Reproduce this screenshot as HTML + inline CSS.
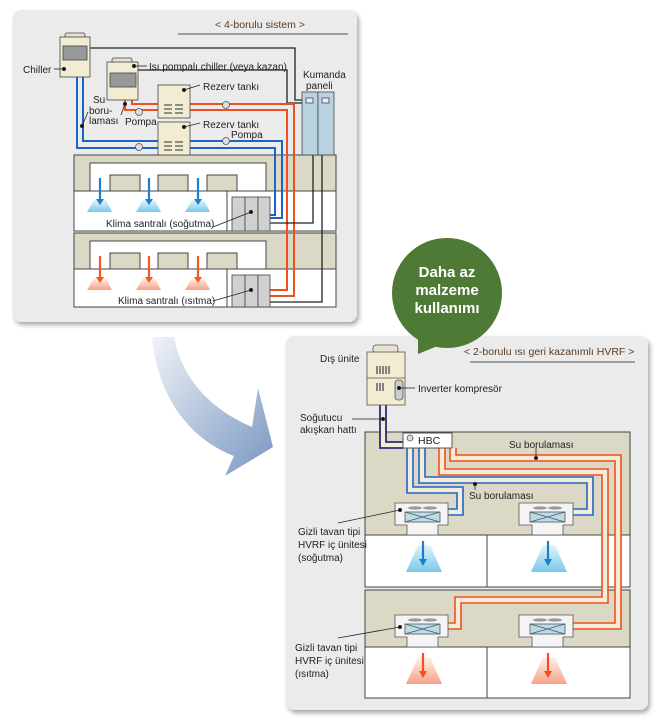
<!DOCTYPE html>
<html><head><meta charset="utf-8"><style>
html,body{margin:0;padding:0;background:#fff}
svg{display:block}
text{font-family:"Liberation Sans",sans-serif;font-size:10px;fill:#222}
</style></head><body>
<svg width="660" height="726" viewBox="0 0 660 726" xmlns="http://www.w3.org/2000/svg">
<defs>
<linearGradient id="ag" x1="0" y1="0" x2="1" y2="1">
<stop offset="0" stop-color="#f0f3f8"/><stop offset="1" stop-color="#7896c0"/></linearGradient>
<linearGradient id="bf" x1="0" y1="0" x2="0" y2="1">
<stop offset="0" stop-color="#e4f4fb"/><stop offset="1" stop-color="#79c8ea"/></linearGradient>
<linearGradient id="rf" x1="0" y1="0" x2="0" y2="1">
<stop offset="0" stop-color="#fff1ea"/><stop offset="1" stop-color="#f7a288"/></linearGradient>
<filter id="sh" x="-5%" y="-5%" width="115%" height="115%"><feDropShadow dx="2" dy="3" stdDeviation="2.5" flood-color="#000" flood-opacity="0.35"/></filter>
</defs>

<rect x="13" y="10" width="344" height="312" rx="8" fill="#ebebeb" filter="url(#sh)"/>
<text x="215" y="28" style="fill:#5a3b22;font-size:10.5px">&lt; 4-borulu sistem &gt;</text>
<line x1="178" y1="34" x2="348" y2="34" stroke="#555" stroke-width="1"/>

<g stroke="#444" stroke-width="1">
<rect x="74" y="155" width="262" height="76" fill="#fff"/>
<rect x="74" y="155" width="262" height="36" fill="#dcd8c6"/>
<rect x="90" y="163" width="176" height="28" fill="#fff"/>
<rect x="110" y="175" width="30" height="16" fill="#dcd8c6"/>
<rect x="158" y="175" width="30" height="16" fill="#dcd8c6"/>
<rect x="207" y="175" width="30" height="16" fill="#dcd8c6"/>
<line x1="227" y1="191" x2="227" y2="231"/>
<rect x="74" y="233" width="262" height="74" fill="#fff"/>
<rect x="74" y="233" width="262" height="36" fill="#dcd8c6"/>
<rect x="90" y="241" width="176" height="28" fill="#fff"/>
<rect x="110" y="253" width="30" height="16" fill="#dcd8c6"/>
<rect x="158" y="253" width="30" height="16" fill="#dcd8c6"/>
<rect x="207" y="253" width="30" height="16" fill="#dcd8c6"/>
<line x1="227" y1="269" x2="227" y2="307"/>
</g>
<g>
<path d="M94 200 L106 200 L112 212 L87 212Z" fill="url(#bf)"/>
<path d="M143 200 L155 200 L161 212 L136 212Z" fill="url(#bf)"/>
<path d="M192 200 L204 200 L210 212 L185 212Z" fill="url(#bf)"/>
<path d="M94 278 L106 278 L112 290 L87 290Z" fill="url(#rf)"/>
<path d="M143 278 L155 278 L161 290 L136 290Z" fill="url(#rf)"/>
<path d="M192 278 L204 278 L210 290 L185 290Z" fill="url(#rf)"/>
<g stroke="#1b7fd0" stroke-width="2.2" fill="#1b7fd0">
<line x1="100" y1="178" x2="100" y2="200"/><path d="M96 199 L104 199 L100 205Z" stroke="none"/>
<line x1="149" y1="178" x2="149" y2="200"/><path d="M145 199 L153 199 L149 205Z" stroke="none"/>
<line x1="198" y1="178" x2="198" y2="200"/><path d="M194 199 L202 199 L198 205Z" stroke="none"/>
</g>
<g stroke="#f05a22" stroke-width="2.2" fill="#f05a22">
<line x1="100" y1="256" x2="100" y2="278"/><path d="M96 277 L104 277 L100 283Z" stroke="none"/>
<line x1="149" y1="256" x2="149" y2="278"/><path d="M145 277 L153 277 L149 283Z" stroke="none"/>
<line x1="198" y1="256" x2="198" y2="278"/><path d="M194 277 L202 277 L198 283Z" stroke="none"/>
</g>
</g>

<g fill="none" stroke-width="2">
<polyline points="90,48 295,48 295,100 303,100" stroke="#222" stroke-width="1.3"/>
<polyline points="138,70 287,70 287,103 303,103" stroke="#222" stroke-width="1.3"/>
<polyline points="77,77 77,148 275,148 275,215 270,215" stroke="#1e64c8"/>
<polyline points="83,77 83,141 282,141 282,218 270,218" stroke="#1e64c8"/>
<polyline points="125,100 125,110 287,110 287,290 270,290" stroke="#f0501e"/>
<polyline points="132,100 132,104 294,104 294,296 270,296" stroke="#f0501e"/>
<polyline points="313,155 313,223 270,223" stroke="#222" stroke-width="1.3"/>
<polyline points="322,155 322,302 270,302" stroke="#222" stroke-width="1.3"/>
</g>
<g fill="#ddd" stroke="#555" stroke-width="0.8">
<circle cx="139" cy="112" r="3.5"/><circle cx="226" cy="105" r="3.5"/>
<circle cx="139" cy="147" r="3.5"/><circle cx="226" cy="141" r="3.5"/>
</g>

<g stroke="#444" stroke-width="0.8">
<rect x="65" y="33" width="20" height="5" rx="2" fill="#e8e3d0"/>
<rect x="60" y="37" width="30" height="40" fill="#f2ecd2"/>
<rect x="63" y="46" width="24" height="14" fill="#999"/>
<rect x="112" y="58" width="20" height="5" rx="2" fill="#e8e3d0"/>
<rect x="107" y="62" width="31" height="38" fill="#f2ecd2"/>
<rect x="110" y="73" width="26" height="14" fill="#999"/>
<rect x="158" y="85" width="32" height="33" fill="#f2ecd2"/>
<rect x="158" y="122" width="32" height="33" fill="#f2ecd2"/>
<rect x="302" y="92" width="16" height="63" fill="#b9d2e0"/>
<rect x="318" y="92" width="16" height="63" fill="#b9d2e0"/>
<rect x="306" y="98" width="7" height="5" fill="#eef"/>
<rect x="322" y="98" width="7" height="5" fill="#eef"/>
<rect x="232" y="197" width="13" height="34" fill="#d0d0d0"/><rect x="245" y="197" width="13" height="34" fill="#d0d0d0"/><rect x="258" y="197" width="12" height="34" fill="#d0d0d0"/>
<rect x="232" y="275" width="13" height="32" fill="#d0d0d0"/><rect x="245" y="275" width="13" height="32" fill="#d0d0d0"/><rect x="258" y="275" width="12" height="32" fill="#d0d0d0"/>
</g>
<g stroke="#555" stroke-width="1.2">
<path d="M164 105h8M175 105h8M164 109h8M175 109h8M164 113h8M175 113h8"/>
<path d="M164 142h8M175 142h8M164 146h8M175 146h8M164 150h8M175 150h8"/>
</g>
<g stroke="#222" stroke-width="0.8" fill="#111">
<line x1="54" y1="69" x2="64" y2="69"/><circle cx="64" cy="69" r="1.6"/>
<line x1="134" y1="66" x2="147" y2="66"/><circle cx="134" cy="66" r="1.6"/>
<line x1="184" y1="90" x2="200" y2="85"/><circle cx="184" cy="90" r="1.6"/>
<line x1="184" y1="127" x2="200" y2="123"/><circle cx="184" cy="127" r="1.6"/>
<line x1="82" y1="126" x2="88" y2="112"/><circle cx="82" cy="126" r="1.6"/>
<line x1="121" y1="115" x2="125" y2="104"/><circle cx="125" cy="104" r="1.6"/>
<line x1="213" y1="227" x2="251" y2="212"/><circle cx="251" cy="212" r="1.6"/>
<line x1="213" y1="301" x2="251" y2="290"/><circle cx="251" cy="290" r="1.6"/>
</g>
<text x="23" y="73">Chiller</text>
<text x="149" y="70">Isı pompalı chiller (veya kazan)</text>
<text x="203" y="90">Rezerv tankı</text>
<text x="203" y="128">Rezerv tankı</text>
<text x="231" y="138">Pompa</text>
<text x="125" y="125">Pompa</text>
<text x="93" y="103">Su</text><text x="89" y="114">boru-</text><text x="89" y="124">laması</text>
<text x="303" y="78">Kumanda</text><text x="306" y="89">paneli</text>
<text x="106" y="227">Klima santralı (soğutma)</text>
<text x="118" y="304">Klima santralı (ısıtma)</text>

<path d="M152 337 C158 400 192 440 234 456 L225 476 L273 447 L258 388 L252 427 C212 410 182 380 174 337 Z" fill="url(#ag)"/>

<rect x="286" y="336" width="362" height="374" rx="8" fill="#ebebeb" filter="url(#sh)"/>
<circle cx="447" cy="293" r="55" fill="#4f7a35"/>
<path d="M418 338 L418 354 L440 345Z" fill="#4f7a35"/>
<text x="447" y="277" text-anchor="middle" style="fill:#fff;font-weight:bold;font-size:15px">Daha az</text>
<text x="447" y="295" text-anchor="middle" style="fill:#fff;font-weight:bold;font-size:15px">malzeme</text>
<text x="447" y="313" text-anchor="middle" style="fill:#fff;font-weight:bold;font-size:15px">kullanımı</text>
<text x="464" y="355" style="fill:#5a3b22;font-size:10.5px">&lt; 2-borulu ısı geri kazanımlı HVRF &gt;</text>
<line x1="470" y1="362" x2="635" y2="362" stroke="#555"/>

<g stroke="#444" stroke-width="1">
<rect x="365" y="432" width="265" height="155" fill="#fff"/>
<rect x="365" y="432" width="265" height="103" fill="#dcd8c6"/>
<line x1="487" y1="535" x2="487" y2="587"/>
<rect x="365" y="590" width="265" height="108" fill="#fff"/>
<rect x="365" y="590" width="265" height="57" fill="#dcd8c6"/>
<line x1="487" y1="647" x2="487" y2="698"/>
</g>
<path d="M418 545 L430 545 L442 572 L406 572Z" fill="url(#bf)"/>
<path d="M543 545 L555 545 L567 572 L531 572Z" fill="url(#bf)"/>
<path d="M418 657 L430 657 L442 684 L406 684Z" fill="url(#rf)"/>
<path d="M543 657 L555 657 L567 684 L531 684Z" fill="url(#rf)"/>
<g stroke-width="2.2">
<line x1="423" y1="541" x2="423" y2="560" stroke="#1b7fd0"/><path d="M419 559 L427 559 L423 566Z" fill="#1b7fd0"/>
<line x1="548" y1="541" x2="548" y2="560" stroke="#1b7fd0"/><path d="M544 559 L552 559 L548 566Z" fill="#1b7fd0"/>
<line x1="423" y1="653" x2="423" y2="672" stroke="#f0501e"/><path d="M419 671 L427 671 L423 678Z" fill="#f0501e"/>
<line x1="548" y1="653" x2="548" y2="672" stroke="#f0501e"/><path d="M544 671 L552 671 L548 678Z" fill="#f0501e"/>
</g>

<polyline points="383,405 383,445 403,445" fill="none" stroke="#f2ecd8" stroke-width="7"/>
<polyline points="380,405 380,448 403,448" fill="none" stroke="#2e2a78" stroke-width="1.8"/>
<polyline points="386,405 386,442 403,442" fill="none" stroke="#2e2a78" stroke-width="1.8"/>

<g fill="none">
<g stroke="#f2ecd8" stroke-width="7">
<polyline points="410,448 410,490 460,490 460,512 448,512"/>
<polyline points="422,448 422,480 590,480 590,512 573,512"/>
<polyline points="442,448 442,472 605,472 605,600 458,600 458,626 448,626"/>
<polyline points="453,448 453,458 618,458 618,626 573,626"/>
</g>
<g stroke="#1e64c8" stroke-width="1.6">
<polyline points="407,448 407,493 457,493 457,509 448,509"/>
<polyline points="413,448 413,487 463,487 463,515 448,515"/>
<polyline points="419,448 419,483 587,483 587,509 573,509"/>
<polyline points="425,448 425,477 593,477 593,515 573,515"/>
</g>
<g stroke="#f0501e" stroke-width="1.6">
<polyline points="439,448 439,475 602,475 602,597 455,597 455,623 448,623"/>
<polyline points="445,448 445,469 608,469 608,603 461,603 461,629 448,629"/>
<polyline points="450,448 450,461 615,461 615,623 573,623"/>
<polyline points="456,448 456,455 621,455 621,629 573,629"/>
</g>
</g>

<rect x="403" y="433" width="49" height="15" fill="#fff" stroke="#555"/>
<circle cx="410" cy="438" r="3" fill="#ddd" stroke="#555" stroke-width="0.8"/>
<text x="418" y="444" style="font-size:10.5px">HBC</text>

<g stroke="#555" stroke-width="0.8">
<path d="M395 503 H448 V525 H438 V535 H407 V525 H395Z" fill="#f4f4f4"/>
<path d="M519 503 H573 V525 H563 V535 H532 V525 H519Z" fill="#f4f4f4"/>
<path d="M395 615 H448 V637 H438 V647 H407 V637 H395Z" fill="#f4f4f4"/>
<path d="M519 615 H573 V637 H563 V647 H532 V637 H519Z" fill="#f4f4f4"/>
<g fill="#b8dcea">
<rect x="405" y="512" width="35" height="10"/><rect x="530" y="512" width="35" height="10"/>
<rect x="405" y="624" width="35" height="10"/><rect x="530" y="624" width="35" height="10"/>
</g>
<path d="M405 512 L440 522 M440 512 L405 522 M530 512 L565 522 M565 512 L530 522 M405 624 L440 634 M440 624 L405 634 M530 624 L565 634 M565 624 L530 634" fill="none"/>
</g>
<g fill="#999">
<ellipse cx="415" cy="508" rx="7" ry="1.6"/><ellipse cx="430" cy="508" rx="7" ry="1.6"/>
<ellipse cx="540" cy="508" rx="7" ry="1.6"/><ellipse cx="555" cy="508" rx="7" ry="1.6"/>
<ellipse cx="415" cy="620" rx="7" ry="1.6"/><ellipse cx="430" cy="620" rx="7" ry="1.6"/>
<ellipse cx="540" cy="620" rx="7" ry="1.6"/><ellipse cx="555" cy="620" rx="7" ry="1.6"/>
</g>

<g stroke="#555" stroke-width="0.8">
<rect x="373" y="345" width="25" height="8" rx="3" fill="#e8e3d0"/>
<rect x="367" y="352" width="38" height="53" fill="#f2ecd2"/>
<line x1="367" y1="378" x2="405" y2="378"/>
<rect x="395" y="380" width="8" height="20" rx="3" fill="#ccc"/>
</g>
<g stroke="#555" stroke-width="1.4">
<path d="M377 366v8M380 366v8M383 366v8M386 366v8M389 366v8M377 383v8M380 383v8M383 383v8"/>
</g>

<g stroke="#222" stroke-width="0.8" fill="#111">
<line x1="399" y1="388" x2="415" y2="388"/><circle cx="399" cy="388" r="1.6"/>
<line x1="352" y1="419" x2="383" y2="419"/><circle cx="383" cy="419" r="1.6"/>
<line x1="536" y1="457" x2="536" y2="448"/><circle cx="536" cy="458" r="1.6"/>
<line x1="475" y1="484" x2="475" y2="490"/><circle cx="475" cy="484" r="1.6"/>
<line x1="338" y1="523" x2="400" y2="510"/><circle cx="400" cy="510" r="1.6"/>
<line x1="338" y1="638" x2="400" y2="627"/><circle cx="400" cy="627" r="1.6"/>
</g>
<text x="320" y="362">Dış ünite</text>
<text x="418" y="392">Inverter kompresör</text>
<text x="300" y="421">Soğutucu</text>
<text x="300" y="433">akışkan hattı</text>
<text x="509" y="448">Su borulaması</text>
<text x="469" y="499">Su borulaması</text>
<text x="298" y="535">Gizli tavan tipi</text>
<text x="298" y="548">HVRF iç ünitesi</text>
<text x="298" y="561">(soğutma)</text>
<text x="295" y="651">Gizli tavan tipi</text>
<text x="295" y="664">HVRF iç ünitesi</text>
<text x="295" y="677">(ısıtma)</text>
</svg>
</body></html>
